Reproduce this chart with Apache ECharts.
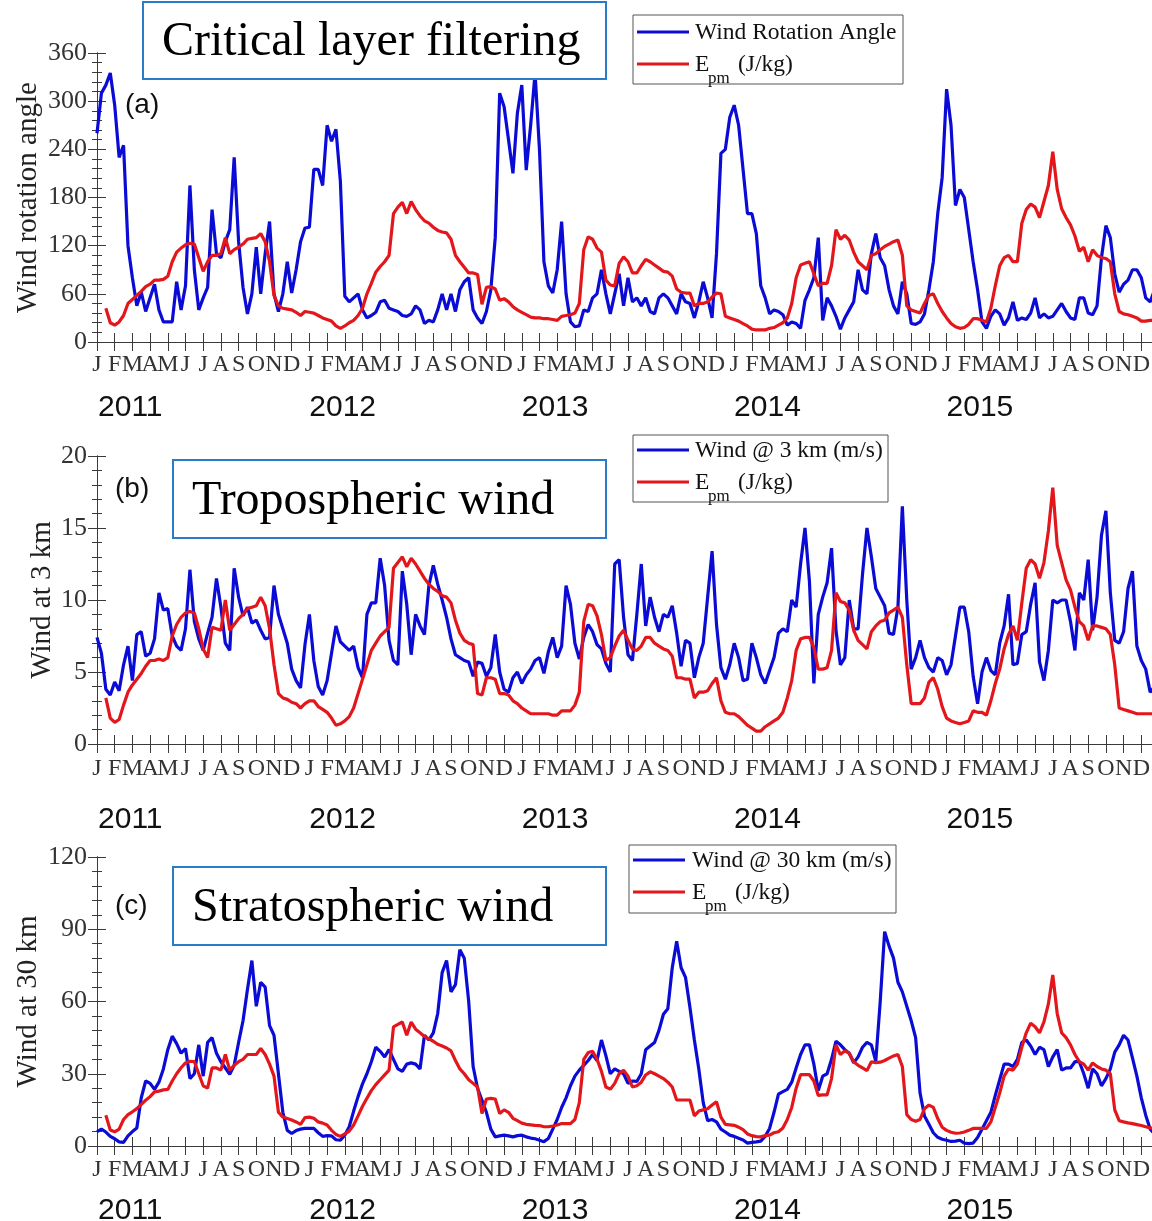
<!DOCTYPE html>
<html>
<head>
<meta charset="utf-8">
<script src="https://cdn.jsdelivr.net/npm/echarts@6/dist/echarts.min.js"></script>
<style>
  html, body { margin: 0; padding: 0; background: #ffffff; }
  #chart { width: 1152px; height: 1221px; }
</style>
</head>
<body>
<div id="chart"></div>
<script>
// Tick labels
const monthLetters = ['J','F','M','A','M','J','J','A','S','O','N','D'];
const yearLabels = ['2011','2012','2013','2014','2015'];

// Samples every quarter month, Jan 2011 -> Jan 2016 (241 values per series)
const STEP = 0.25;

// (a) wind rotation angle (deg) and Epm (J/kg)
const rotationAngle = [
  260,310,320,335, 295,230,245,120, 80,45,62,38, 55,72,40,25, 25,25,75,40, 70,195,90,40,
  55,68,165,110, 105,125,140,230, 125,68,35,60, 118,60,110,150, 60,38,60,100, 61,90,125,142,
  143,215,215,195, 270,250,265,200, 57,50,55,60, 40,30,33,37, 50,52,42,40, 38,33,32,35,
  45,40,23,27, 25,40,60,40, 60,38,65,75, 80,40,30,23, 38,65,130,310, 293,252,210,285,
  320,214,270,335, 239,100,70,61, 90,150,60,25, 19,20,40,38, 55,60,90,60, 35,60,85,45,
  80,50,55,45, 55,38,35,55, 60,55,45,35, 60,50,48,30, 50,75,55,30, 110,235,240,280,
  295,270,215,160, 160,135,70,55, 35,40,38,34, 21,25,23,17, 52,65,80,130, 27,55,45,32,
  16,30,40,50, 90,65,60,110, 135,105,95,65, 45,35,75,60, 23,22,25,35, 65,100,160,205,
  315,270,170,190, 180,140,100,65, 25,17,32,40, 35,21,30,50, 27,30,28,36, 55,30,35,30,
  32,40,48,38, 30,28,55,55, 36,34,45,105, 145,130,85,62, 72,77,90,90, 80,55,50,65,
  70
];
const epmA = [
  null,null,42,24, 21,25,33,48, 53,58,63,69, 72,77,77,78, 82,100,112,117, 121,123,122,105,
  88,100,108,108, 110,130,110,115, 118,122,128,129, 130,135,125,100, 58,45,42,41, 40,37,33,38,
  37,36,33,30, 28,26,20,17, 20,24,27,33, 42,60,73,87, 94,100,108,160, 168,174,160,175,
  165,157,151,148, 143,139,137,136, 128,108,100,93, 86,86,84,47, 68,69,66,52, 54,50,44,40,
  37,34,31,30, 30,29,29,28, 27,32,33,34, 36,48,115,131, 128,117,112,77, 71,70,98,106,
  100,86,86,95, 103,100,96,92, 88,87,82,66, 62,61,61,45, 48,48,50,56, 61,60,32,30,
  28,26,23,20, 16,15,15,15, 17,18,21,24, 30,48,80,96, 98,100,85,70, 73,73,95,140,
  128,133,127,112, 100,95,90,108, 110,115,119,122, 125,127,108,45, 40,38,36,48, 58,60,48,38,
  30,23,19,17, 18,22,29,29, 27,25,42,70, 95,105,108,100, 100,148,165,172, 168,155,175,195,
  237,190,166,155, 146,132,113,118, 100,115,108,105, 104,100,60,38, 35,34,32,30, 26,26,27,27,
  27
];

// (b) wind at 3 km (m/s) and Epm (J/kg)
const wind3km = [
  7.4,6.3,3.8,3.4, 4.3,3.7,5.5,6.8, 4.4,7.6,7.8,6.1, 6.3,7.3,10.5,9.3, 9.4,7.5,6.8,6.5, 8.0,12.1,8.5,7.3,
  6.5,7.7,8.8,11.5, 9.5,7.0,6.5,12.2, 10.2,8.9,9.5,8.4, 8.6,7.9,7.3,7.4, 11.0,9.0,8.0,7.0, 5.2,4.4,3.9,6.9,
  9.0,5.8,4.0,3.4, 4.4,6.3,8.2,7.1, 6.8,6.5,6.8,5.3, 4.6,9.0,9.8,9.8, 12.9,11.0,7.2,5.8, 5.5,12.0,9.7,6.2,
  9.0,8.2,7.6,11.0, 12.4,11.1,10.0,8.8, 7.3,6.2,6.0,5.8, 5.7,4.7,5.7,5.6, 4.7,5.3,7.6,5.0, 3.8,3.6,4.6,5.0,
  4.2,4.8,5.2,5.8, 6.0,4.9,6.4,7.4, 6.0,6.8,11.0,9.7, 7.0,5.9,7.4,8.3, 7.8,6.9,6.6,5.6, 5.0,12.5,12.8,8.8,
  6.2,5.8,9.0,12.5, 8.2,10.2,8.8,7.8, 9.0,8.8,9.6,7.7, 5.4,7.2,7.0,4.6, 6.0,7.0,10.2,13.4, 8.3,5.3,4.5,5.5,
  7.0,6.0,4.4,4.5, 7.0,6.0,4.8,4.2, 5.1,6.0,7.7,8.0, 7.8,10.0,9.5,12.5, 15.0,11.3,4.2,9.0, 10.2,11.2,13.6,7.9,
  5.5,6.0,10.0,8.0, 8.0,11.8,15.0,13.0, 10.8,10.2,9.6,7.7, 7.6,9.5,16.5,10.0, 5.2,6.0,7.2,6.0, 5.3,5.0,6.0,5.8,
  4.8,5.5,7.5,9.5, 9.5,7.8,4.7,2.8, 5.0,6.0,5.1,4.8, 7.0,8.2,10.4,5.5, 5.6,7.6,7.8,9.7, 11.2,5.7,4.4,6.5,
  10.0,9.8,10.0,10.0, 8.5,6.5,10.5,10.0, 12.8,7.9,10.2,14.5, 16.2,10.5,7.2,7.0, 7.8,10.8,12.0,6.8, 5.8,5.2,3.6,4.0,
  4.5
];
const epmB = [
  null,null,3.2,1.8, 1.5,1.7,2.7,3.6, 4.1,4.5,4.9,5.4, 5.8,5.8,5.9,5.8, 6.0,7.5,8.3,8.8, 9.1,9.2,9.1,8.0,
  6.6,6.0,8.1,8.0, 7.9,10.0,7.9,8.3, 8.7,9.0,9.4,9.5, 9.6,10.2,9.6,8.0, 5.5,3.5,3.2,3.1, 2.9,2.8,2.5,2.8,
  3.0,3.0,2.6,2.4, 2.2,1.8,1.3,1.4, 1.6,1.9,2.5,3.5, 4.5,5.5,6.5,7.0, 7.5,7.8,8.1,12.2, 12.6,13.0,12.3,12.9,
  12.5,12.0,11.5,11.1, 10.8,10.6,10.3,10.2, 9.8,8.6,7.7,7.2, 7.0,6.9,3.5,3.4, 4.6,4.6,4.5,3.5, 3.5,3.4,3.0,2.8,
  2.5,2.3,2.1,2.1, 2.1,2.1,2.1,2.0, 2.0,2.3,2.3,2.3, 2.7,3.6,8.5,9.7, 9.6,8.9,7.6,5.8, 6.0,6.8,7.5,7.9,
  7.2,6.6,6.5,6.8, 7.4,7.4,7.0,6.8, 6.6,6.5,6.1,4.6, 4.6,4.5,4.5,3.2, 3.6,3.6,3.7,4.2, 4.6,3.0,2.2,2.1,
  2.1,1.9,1.6,1.3, 1.1,0.9,0.9,1.2, 1.4,1.6,1.8,2.2, 3.2,4.4,6.5,7.3, 7.4,7.4,6.7,5.2, 5.2,5.3,6.5,10.5,
  9.9,9.8,9.3,7.9, 7.2,6.9,6.6,7.8, 8.2,8.5,8.6,9.1, 9.3,9.5,8.8,5.5, 2.8,2.8,2.8,3.2, 4.3,4.6,3.8,2.6,
  1.8,1.6,1.5,1.4, 1.5,1.6,2.3,2.2, 2.2,2.0,3.0,4.2, 5.2,6.6,7.6,8.2, 7.2,9.8,12.2,12.8, 12.5,11.5,12.6,14.8,
  17.8,13.8,12.6,11.4, 10.7,9.5,8.5,8.2, 7.2,8.2,8.2,8.1, 8.0,7.6,5.5,2.5, 2.4,2.3,2.2,2.1, 2.1,2.1,2.1,2.1,
  2.1
];

// (c) wind at 30 km (m/s) and Epm (J/kg)
const wind30km = [
  6.0,7.0,5.8,4.0, 3.0,1.7,1.5,4.2, 6.0,7.5,20.0,27.0, 26.0,23.5,26.5,32.0, 40.0,45.6,42.5,38.5, 40.5,28.0,30.0,42.0,
  29.0,43.0,45.0,38.5, 35.0,32.4,29.8,33.5, 43.0,52.0,65.0,77.0, 58.0,68.0,66.0,50.0, 46.0,30.0,14.0,6.5, 5.2,6.4,7.0,7.3,
  7.3,7.3,5.5,4.0, 4.3,4.2,2.6,2.4, 4.5,8.0,14.5,20.5, 25.8,30.0,35.0,41.0, 39.3,37.0,40.0,36.0, 32.0,31.0,34.0,34.5,
  34.0,32.0,46.0,44.0, 47.0,55.0,72.0,77.0, 64.0,67.0,81.5,78.0, 60.0,33.0,24.0,19.0, 14.0,7.0,3.8,4.2, 4.5,4.2,3.8,4.3,
  4.5,3.8,3.3,3.0, 2.4,1.8,3.1,7.0, 11.0,16.0,20.0,25.0, 29.0,31.5,33.5,35.5, 38.0,35.5,44.0,37.5, 30.0,32.0,31.0,30.0,
  26.0,27.0,26.8,30.0, 40.0,41.5,43.0,48.0, 54.7,57.0,74.0,85.0, 74.0,70.0,57.5,44.0, 32.0,18.0,10.5,11.0, 10.0,7.0,5.8,4.5,
  4.0,3.2,2.5,1.2, 1.5,1.7,2.0,4.0, 7.3,14.0,21.5,22.6, 23.5,26.5,32.4,38.0, 42.0,42.0,34.0,23.0, 29.0,30.0,36.0,43.5,
  42.0,40.0,38.5,34.5, 37.0,41.0,43.0,42.0, 35.2,60.0,89.0,83.0, 78.0,68.0,64.0,58.0, 52.0,45.0,22.0,12.5, 9.0,5.5,3.6,2.8,
  2.4,1.9,2.0,2.4, 1.2,1.0,1.2,3.5, 7.0,10.5,14.0,21.0, 27.5,34.0,34.0,33.0, 36.0,43.0,44.0,41.5, 38.0,41.0,40.0,33.0,
  37.0,40.0,31.5,32.4, 32.4,35.0,35.0,30.0, 24.0,32.0,30.0,25.0, 28.0,32.0,39.0,42.0, 46.0,44.0,36.6,29.0, 20.0,12.8,7.0,5.0,
  4.0
];
const epmC = [
  null,null,12.8,6.6, 5.9,7.0,11.0,13.0, 14.2,15.5,17.3,19.0, 20.5,22.5,22.8,23.3, 23.5,27.0,30.0,32.5, 34.5,35.2,35.0,30.0,
  25.0,24.0,32.4,32.4, 31.5,38.0,31.5,33.5, 35.0,36.0,38.0,38.0, 38.0,40.5,38.0,34.0, 29.0,14.0,12.0,11.4, 10.8,10.0,9.0,11.8,
  12.0,11.5,10.0,9.5, 8.7,6.5,4.8,4.0, 5.0,6.2,8.7,12.5, 16.5,19.8,23.0,25.5, 27.5,29.5,31.5,49.5, 50.5,51.5,46.0,51.5,
  48.5,47.0,45.5,44.5, 43.5,42.2,41.5,40.7, 39.5,35.5,32.0,30.0, 27.5,26.0,24.5,13.5, 19.5,19.8,19.5,13.5, 15.0,14.0,11.5,10.5,
  9.5,9.0,8.8,8.6, 8.5,8.0,8.0,8.3, 8.7,9.3,9.3,9.3, 11.0,18.0,36.0,38.8, 39.3,36.0,31.0,24.5, 23.6,26.0,30.0,31.5,
  29.0,24.5,25.0,26.5, 29.5,30.8,30.0,29.0, 28.0,26.5,24.5,19.1, 19.1,19.1,19.1,12.5, 14.5,15.0,15.5,17.0, 18.4,12.0,9.0,8.8,
  8.6,7.8,6.8,5.0, 4.3,3.9,3.8,4.3, 4.5,5.5,5.9,7.5, 11.0,16.0,24.0,29.6, 29.6,29.6,27.0,21.0, 21.2,21.2,28.0,42.0,
  38.0,39.5,38.5,35.0, 33.5,32.4,31.3,35.0, 34.6,34.8,35.5,36.5, 37.4,38.0,33.0,13.0, 11.0,10.3,11.0,15.5, 17.0,16.0,11.4,7.8,
  6.5,5.7,5.3,5.4, 5.8,6.5,7.3,7.3, 7.3,7.3,10.0,16.0, 22.0,29.0,32.0,31.5, 34.0,41.0,47.0,51.0, 49.5,47.0,51.5,59.0,
  71.0,55.0,47.0,45.0, 42.0,38.0,35.0,34.0, 31.5,34.5,33.0,32.0, 31.5,30.0,15.0,10.5, 10.0,9.6,9.3,8.9, 8.5,8.0,7.5,7.3,
  7.3
];

// ---------- styling ----------
const SERIF = '"Liberation Serif", "Times New Roman", serif';
const SANS = '"Liberation Sans", Arial, sans-serif';
const BLUE = '#0b0bd6';
const RED = '#e3161b';
const AXIS = '#3a3a3a';
const BOX_BLUE = '#2b7cc6';

// layout of the three stacked panels
const panels = [
  { top: 53,  height: 289, max: 360, interval: 60, yName: 'Wind rotation angle', nameGap: 54,
    blue: rotationAngle, red: epmA, blueName: 'Wind Rotation Angle', monthMargin: 11, yearMargin: 51 },
  { top: 456, height: 288, max: 20,  interval: 5,  yName: 'Wind at 3 km', nameGap: 40,
    blue: wind3km, red: epmB, blueName: 'Wind @ 3 km (m/s)', monthMargin: 13, yearMargin: 61 },
  { top: 857, height: 289, max: 120, interval: 30, yName: 'Wind at 30 km', nameGap: 54,
    blue: wind30km, red: epmC, blueName: 'Wind @ 30 km (m/s)', monthMargin: 12, yearMargin: 50 }
];

const GRID_LEFT = 97;
const GRID_WIDTH = 1062;      // 60 months; the last days of 2015 run past the right edge
const yearTickPos = yearLabels.map((y, i) => 1.88 + 12 * i);

const withTime = arr => arr.map((v, i) => [i * STEP, v]);

const grid = [], xAxis = [], yAxis = [], series = [];
panels.forEach((p, i) => {
  grid.push({ left: GRID_LEFT, top: p.top, width: GRID_WIDTH, height: p.height,
              containLabel: false, outerBoundsMode: 'none' });
  const baseX = {
    gridIndex: i, type: 'value', min: 0, max: 60, interval: 1,
    axisLine: { show: true, lineStyle: { color: AXIS, width: 1 } },
    axisTick: { show: true, inside: true, length: 9, lineStyle: { color: AXIS } },
    splitLine: { show: false }
  };
  // month letters along the bottom
  xAxis.push(Object.assign({}, baseX, {
    position: 'bottom',
    axisLabel: {
      show: true, margin: p.monthMargin, color: '#333',
      fontFamily: SERIF, fontSize: 24,
      formatter: v => (v < 60 ? monthLetters[Math.round(v) % 12] : '')
    }
  }));
  // mirrored top frame
  xAxis.push(Object.assign({}, baseX, { position: 'top', axisLabel: { show: false } }));
  // years below the month letters
  xAxis.push({
    gridIndex: i, type: 'value', min: 0, max: 60, position: 'bottom',
    axisLine: { show: false }, axisTick: { show: false }, splitLine: { show: false },
    axisLabel: {
      show: true, customValues: yearTickPos, margin: p.yearMargin,
      color: '#111', fontFamily: SANS, fontSize: 30,
      formatter: v => yearLabels[Math.floor(v / 12)]
    }
  });

  const baseY = {
    gridIndex: i, type: 'value', min: 0, max: p.max, interval: p.interval,
    axisLine: { show: true, lineStyle: { color: AXIS, width: 1 } },
    axisTick: { show: true, inside: true, length: 9, lineStyle: { color: AXIS } },
    minorTick: { show: true, splitNumber: 5, length: 5, lineStyle: { color: AXIS } },
    splitLine: { show: false }, minorSplitLine: { show: false }
  };
  yAxis.push(Object.assign({}, baseY, {
    position: 'left',
    name: p.yName, nameLocation: 'middle', nameRotate: 90, nameGap: p.nameGap,
    nameMoveOverlap: false,
    nameTextStyle: { fontFamily: SERIF, fontSize: 29, color: '#222' },
    axisLabel: { show: true, margin: 10, color: '#333', fontFamily: SERIF, fontSize: 26 }
  }));
  yAxis.push(Object.assign({}, baseY, { position: 'right', axisLabel: { show: false } }));

  series.push({
    name: p.blueName, type: 'line', xAxisIndex: 3 * i, yAxisIndex: 2 * i,
    data: withTime(p.blue), showSymbol: false, symbol: 'none',
    lineStyle: { color: BLUE, width: 3.2 }, itemStyle: { color: BLUE },
    clip: true, z: 3, animation: false
  });
  series.push({
    name: 'Epm (J/kg)', type: 'line', xAxisIndex: 3 * i, yAxisIndex: 2 * i,
    data: withTime(p.red), showSymbol: false, symbol: 'none', connectNulls: false,
    lineStyle: { color: RED, width: 3.2 }, itemStyle: { color: RED },
    clip: true, z: 4, animation: false
  });
});

// ---------- annotation boxes, legends and panel tags ----------
function titleBox(x, y, w, h, text) {
  return [
    { type: 'rect', z: 100, shape: { x, y, width: w, height: h },
      style: { fill: '#ffffff', stroke: BOX_BLUE, lineWidth: 2 } },
    { type: 'text', z: 101, x: x + 19, y: y + h / 2 + 2,
      style: { text, font: '48px ' + SERIF, fill: '#000', verticalAlign: 'middle', align: 'left' } }
  ];
}
function legendBox(x, y, w, h, label, dy1, dy2, tx) {
  const lx0 = x + 4, lx1 = x + 56;
  return [
    { type: 'rect', z: 100, shape: { x, y, width: w, height: h },
      style: { fill: '#ffffff', stroke: '#555', lineWidth: 1 } },
    { type: 'line', z: 101, shape: { x1: lx0, y1: y + dy1, x2: lx1, y2: y + dy1 },
      style: { stroke: BLUE, lineWidth: 3 } },
    { type: 'line', z: 101, shape: { x1: lx0, y1: y + dy2, x2: lx1, y2: y + dy2 },
      style: { stroke: RED, lineWidth: 3 } },
    { type: 'text', z: 101, x: tx, y: y + dy1 + 1,
      style: { text: label, font: '23.5px ' + SERIF, fill: '#111', verticalAlign: 'middle' } },
    { type: 'text', z: 101, x: tx, y: y + dy2 + 1,
      style: { text: 'E', font: '23.5px ' + SERIF, fill: '#111', verticalAlign: 'middle' } },
    { type: 'text', z: 101, x: tx + 13, y: y + dy2 + 15,
      style: { text: 'pm', font: '17px ' + SERIF, fill: '#111', verticalAlign: 'middle' } },
    { type: 'text', z: 101, x: tx + 43, y: y + dy2 + 1,
      style: { text: '(J/kg)', font: '23.5px ' + SERIF, fill: '#111', verticalAlign: 'middle' } }
  ];
}
function tag(x, y, text) {
  return { type: 'text', z: 101, x, y,
    style: { text, font: '28px ' + SANS, fill: '#111', verticalAlign: 'middle' } };
}

const graphicElements = [].concat(
  titleBox(143, 2, 463, 77, 'Critical layer filtering'),
  titleBox(173, 460, 433, 78, 'Tropospheric wind'),
  titleBox(173, 867, 433, 78, 'Stratospheric wind'),
  legendBox(633, 15, 270, 69, 'Wind Rotation Angle', 17, 49, 695),
  legendBox(633, 435, 255, 67, 'Wind @ 3 km (m/s)', 15, 47, 695),
  legendBox(629, 845, 267, 68, 'Wind @ 30 km (m/s)', 15, 47, 692),
  [tag(125, 105, '(a)'), tag(115, 489, '(b)'), tag(115, 906, '(c)')]
);

const chart = echarts.init(document.getElementById('chart'), null, { renderer: 'canvas' });
chart.setOption({
  backgroundColor: '#ffffff',
  animation: false,
  grid, xAxis, yAxis, series,
  graphic: { elements: graphicElements }
});
</script>
</body>
</html>
